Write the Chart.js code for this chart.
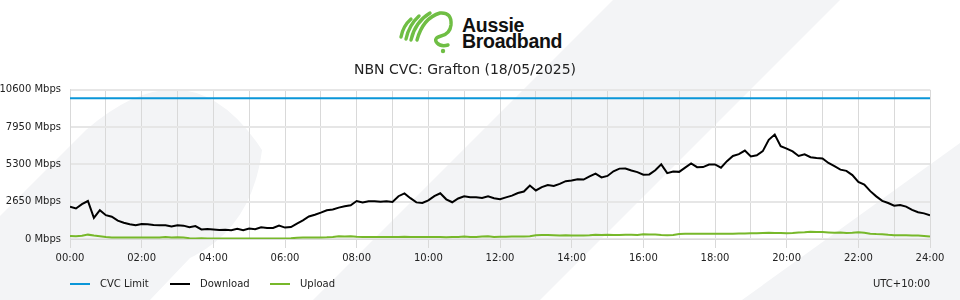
<!DOCTYPE html>
<html>
<head>
<meta charset="utf-8">
<script src="https://cdn.jsdelivr.net/npm/chart.js@4.4.1/dist/chart.umd.min.js"></script>
<style>
  html, body { margin: 0; padding: 0; background: #fff; }
  body { width: 960px; height: 300px; position: relative; overflow: hidden; font-family: "DejaVu Sans", sans-serif; color: #222; }
  #bg, #logo { position: absolute; left: 0; top: 0; }
  #chartWrap { position: absolute; left: 0; top: 0; width: 960px; height: 300px; }
  .legend-item { position: absolute; top: 278px; font-size: 10px; line-height: 12px; display: flex; align-items: center; }
  .legend-item .mark { width: 20px; height: 2px; margin-right: 10px; }
  #tz { position: absolute; top: 278px; right: 30px; font-size: 10px; line-height: 12px; }
</style>
</head>
<body>
<!-- background decoration -->
<svg id="bg" width="960" height="300">
  <path d="M0,216 L86,130 Q190,40 262,150 Q252,228 190,258 L150,300 L0,300 Z" fill="#f3f4f6"/>
  <polygon points="613,0 840,0 540,300 313,300" fill="#f3f4f6"/>
  <polygon points="960,143 960,300 742,300" fill="#f3f4f6"/>
</svg>

<!-- logo -->
<svg id="logo" width="960" height="60">
  <g fill="none" stroke="#6fbe44" stroke-width="3.4" stroke-linecap="round">
    <path d="M401,37 Q403,26 411,19"/>
    <path d="M406,39 Q409,25 419,16"/>
    <path d="M411,40 Q415,22 430,13"/>
    <path d="M417,40 Q423,18 440,13 Q452,12 451,25 Q450,34 441,36 Q433,38 437,43 Q441,47 448,45"/>
  </g>
  <circle cx="443" cy="51" r="2.2" fill="#6fbe44"/>
  <text x="462" y="32" font-family="Liberation Sans, Arial, sans-serif" font-weight="bold" font-size="19.5" fill="#111" letter-spacing="-0.3">Aussie</text>
  <text x="462" y="47.5" font-family="Liberation Sans, Arial, sans-serif" font-weight="bold" font-size="19.5" fill="#111" letter-spacing="-0.3">Broadband</text>
</svg>

<div id="chartWrap"><canvas id="grafikCvc" width="960" height="300"></canvas></div>
<div id="legend"></div>
<div id="tz">UTC+10:00</div>

<script>
// === DATA ===
const chartTitle = "NBN CVC: Grafton (18/05/2025)";
const seriesNames = ["CVC Limit", "Download", "Upload"];
const seriesColors = ["#0a96d8", "#000000", "#77b82a"];

// minutes since midnight, every 10 minutes
const sampleMinutes = [];
for (let m = 0; m <= 1440; m += 10) sampleMinutes.push(m);

// CVC capacity (Mbps), flat for the day
const cvcLimitTimes = [0, 1440];
const cvcLimitValues = [10000, 10000];

// download (Mbps)
const downloadValues = [
  2300, 2170, 2480, 2700, 1500, 2050, 1690, 1580, 1300, 1160, 1050, 975,
  1060, 1050, 996, 985, 975, 890, 970, 950, 830, 920, 680, 710,
  680, 635, 650, 630, 730, 620, 740, 700, 830, 790, 790, 960,
  810, 850, 1100, 1330, 1600, 1720, 1870, 2040, 2100, 2230, 2330, 2400,
  2700, 2590, 2680, 2690, 2640, 2680, 2630, 3040, 3240, 2900, 2600, 2560,
  2750, 3050, 3250, 2820, 2610, 2880, 3040, 2970, 2970, 2910, 3030, 2900,
  2830, 2960, 3080, 3270, 3370, 3800, 3450, 3690, 3840, 3770, 3920, 4110,
  4150, 4250, 4220, 4450, 4650, 4380, 4480, 4810, 5000, 5010, 4870, 4750,
  4570, 4590, 4880, 5300, 4680, 4800, 4770, 5070, 5370, 5100, 5110, 5290,
  5300, 5070, 5530, 5900, 6025, 6280, 5870, 5950, 6240, 7050, 7420, 6600,
  6420, 6220, 5900, 6020, 5810, 5750, 5720, 5400, 5170, 4930, 4840, 4540,
  4060, 3860, 3400, 3030, 2710, 2560, 2370, 2420, 2300, 2070, 1900, 1820,
  1690
];

// upload (Mbps)
const uploadValues = [
  220, 200, 230, 310, 250, 200, 140, 110, 100, 100, 100, 100,
  100, 100, 110, 100, 140, 100, 130, 110, 60, 40, 60, 40,
  30, 30, 30, 30, 30, 30, 30, 30, 30, 30, 30, 30,
  30, 50, 90, 100, 100, 100, 110, 120, 150, 190, 180, 200,
  160, 150, 150, 150, 140, 150, 140, 150, 160, 150, 150, 140,
  150, 140, 140, 120, 150, 140, 180, 150, 140, 170, 200, 150,
  160, 160, 170, 170, 170, 190, 270, 280, 280, 270, 250, 260,
  250, 240, 250, 260, 300, 290, 310, 290, 290, 300, 300, 280,
  330, 320, 320, 280, 260, 290, 360, 370, 380, 380, 380, 380,
  380, 380, 380, 380, 390, 390, 400, 410, 430, 440, 420, 430,
  410, 420, 460, 480, 510, 500, 490, 470, 440, 460, 430, 440,
  480, 450, 380, 350, 340, 300, 270, 260, 260, 250, 240, 220,
  170
];

// axis ticks
const yTickValues = [0, 2650, 5300, 7950, 10600];
const xTickHours = [0, 2, 4, 6, 8, 10, 12, 14, 16, 18, 20, 22, 24];


// === HELPER ===
function toPoints(minutes, values) {
  return values.map((v, i) => ({ x: minutes[i] / 60, y: v }));
}

function hourLabel(h) {
  return String(h).padStart(2, "0") + ":00";
}


// === LEGEND (HTML) ===
function renderLegend() {
  const box = document.getElementById("legend");
  seriesNames.forEach((name, i) => {
    const item = document.createElement("div");
    item.className = "legend-item";
    item.style.left = (70 + i * 100) + "px";
    item.innerHTML = `<span class="mark" style="background:${seriesColors[i]}"></span><span>${name}</span>`;
    box.appendChild(item);
  });
}


// === CHART ===
function renderChart() {
  const ctx = document.getElementById("grafikCvc").getContext("2d");
  const lineStyle = { borderWidth: 2, pointRadius: 0, tension: 0, fill: false };

  new Chart(ctx, {
    type: "line",
    data: {
      datasets: [
        { label: seriesNames[0], data: toPoints(cvcLimitTimes, cvcLimitValues), borderColor: seriesColors[0], ...lineStyle },
        { label: seriesNames[1], data: toPoints(sampleMinutes, downloadValues), borderColor: seriesColors[1], ...lineStyle },
        { label: seriesNames[2], data: toPoints(sampleMinutes, uploadValues), borderColor: seriesColors[2], ...lineStyle }
      ]
    },
    options: {
      responsive: false,
      animation: false,
      layout: { padding: { top: 53, right: 30, bottom: 32, left: 0 } },
      plugins: {
        legend: { display: false },
        tooltip: { enabled: false },
        title: {
          display: true,
          text: chartTitle,
          color: "#222",
          font: { family: "DejaVu Sans", size: 14, weight: "normal" },
          padding: { top: 9, bottom: 11 }
        }
      },
      scales: {
        x: {
          type: "linear",
          min: 0,
          max: 24,
          border: { color: "#d9d9d9" },
          grid: {
            color: "#d9d9d9",
            lineWidth: 1,
            tickLength: 9,
            tickColor: (c) => (xTickHours.includes(c.tick.value) ? "#d9d9d9" : "rgba(0,0,0,0)")
          },
          ticks: {
            stepSize: 1,
            autoSkip: false,
            maxRotation: 0,
            padding: 4,
            color: "#222",
            font: { family: "DejaVu Sans", size: 10 },
            callback: (v) => (xTickHours.includes(v) ? hourLabel(v) : "")
          }
        },
        y: {
          min: 0,
          max: 10600,
          afterBuildTicks: (axis) => { axis.ticks = yTickValues.map(v => ({ value: v })); },
          afterFit: (axis) => { axis.width = 70; },
          border: { color: "#d9d9d9" },
          grid: { color: "#e6e6e6", lineWidth: 2, drawTicks: false },
          ticks: {
            padding: 9,
            color: "#222",
            font: { family: "DejaVu Sans", size: 10 },
            callback: (v) => v + " Mbps"
          }
        }
      }
    }
  });
}

document.addEventListener("DOMContentLoaded", () => {
  renderLegend();
  renderChart();
});
</script>
</body>
</html>
